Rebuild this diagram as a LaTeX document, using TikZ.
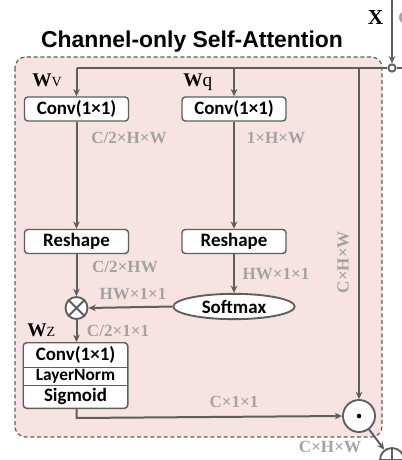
\documentclass[tikz,border=0pt]{standalone}
\usepackage{fontspec}
\setmainfont{Liberation Serif}
\newfontfamily\boxfont{Carlito}
\newfontfamily\titlefont{Liberation Sans}
\usetikzlibrary{arrows.meta,shapes.geometric,fit}
\definecolor{lc}{HTML}{5E5E5E}
\definecolor{lblc}{HTML}{A3A3A3}
\definecolor{pinkbg}{HTML}{F8E3E3}
\begin{document}
\begin{tikzpicture}[x=0.75pt,y=-0.75pt,
  conn/.style={draw=lc,line width=1.5pt},
  arr/.style={conn,-{Stealth[length=5.5pt,width=5pt]}},
  opbox/.style={draw=lc,fill=white,line width=1.1pt,rounded corners=2.5pt,
    minimum width=78pt,minimum height=18pt,inner sep=0pt,
    font=\boxfont\bfseries\fontsize{14.2}{14.2}\selectfont},
  subbox/.style={minimum width=78pt,inner sep=0pt,fill=white,
    font=\boxfont\bfseries\fontsize{14.2}{14.2}\selectfont},
  lbl/.style={text=lblc,font=\bfseries\fontsize{12.8}{12.8}\selectfont,inner sep=0pt},
  opcirc/.style={circle,draw=lc,fill=white,line width=1.4pt,inner sep=0pt},
  wlbl/.style={anchor=base west,inner sep=0pt}]
\useasboundingbox (0,0) rectangle (402,460);

% background dashed box
\draw[draw=lc,dash pattern=on 3pt off 2pt,line width=0.9pt,fill=pinkbg,rounded corners=8pt]
  (15,57) rectangle (382,437);

% title
\node[font=\titlefont\bfseries\fontsize{17.2}{17.2}\selectfont] (title) at (192,42) {Channel-only Self-Attention};

% input
\node[font=\bfseries\fontsize{16}{16}\selectfont,inner sep=0pt] (xlbl) at (375.5,17.5) {X};
\node[lbl,anchor=west] (xdim) at (398,17.5) {C×H×W};
\coordinate (xin) at (392,0);
\node[opcirc,minimum size=5.5pt] (jn) at (392,68) {};
\coordinate (xout) at (402,68);
\draw[arr] (xin) -- (jn);
\draw[conn] (jn) -- (xout);

% boxes
\node[opbox] (cv1) at (76.5,109) {Conv(1×1)};
\node[opbox] (cv2) at (234,109) {Conv(1×1)};
\node[opbox] (rs1) at (76.5,241.5) {Reshape};
\node[opbox] (rs2) at (234,241.5) {Reshape};
\node[opcirc,minimum size=16.5pt] (ot) at (76.5,308) {};
\draw[lc,line width=1.4pt] (ot.north west) -- (ot.south east) (ot.north east) -- (ot.south west);
\node[ellipse,draw=lc,fill=white,line width=1.4pt,minimum width=91pt,minimum height=19pt,inner sep=0pt,
  font=\boxfont\bfseries\fontsize{14.2}{14.2}\selectfont] (sm) at (234,306.5) {Softmax};

% stacked box
\node[subbox,minimum height=18pt] (sc) at (75.5,355) {Conv(1×1)};
\node[subbox,minimum height=13.5pt,font=\boxfont\bfseries\fontsize{13}{13}\selectfont] (sl) at (75.5,376) {LayerNorm};
\node[subbox,minimum height=17.25pt] (ss) at (75.5,396.5) {Sigmoid};
\node[fit=(sc)(sl)(ss),draw=lc,line width=1.1pt,rounded corners=2.5pt,inner sep=0pt] (stack) {};
\draw[lc,line width=1.1pt] (sc.south west) -- (sc.south east);
\draw[lc,line width=1.1pt] (sl.south west) -- (sl.south east);

% dot product
\node[opcirc,minimum size=24pt] (dot) at (359,416) {};
\fill (dot.center) circle (1.7pt);
\node[opcirc,minimum size=18pt] (pl) at (392,460) {};
\draw[lc,line width=1.4pt] (pl.north) -- (pl.south) (pl.west) -- (pl.east);

% W labels
\node[wlbl] (wv) at (32,86.5) {\bfseries\fontsize{14.5}{14.5}\selectfont W\mdseries\fontsize{10.5}{10.5}\selectfont V};
\node[wlbl] (wq) at (183,86.5) {\bfseries\fontsize{14.5}{14.5}\selectfont W\mdseries\fontsize{14.5}{14.5}\selectfont q};
\node[wlbl] (wz) at (27,336) {\bfseries\fontsize{14.5}{14.5}\selectfont W\mdseries\fontsize{10.5}{10.5}\selectfont Z};

% connectors
\coordinate (tl) at (76.5,68);
\draw[conn] (jn) -- (tl);
\draw[arr] (tl) -- (cv1.north);
\draw[arr] (cv2.north |- tl) -- (cv2.north);
\draw[arr] (dot.north |- tl) -- (dot.north);
\draw[arr] (cv1) -- (rs1);
\draw[arr] (cv2) -- (rs2);
\draw[arr] (rs1.south) -- (ot.north);
\draw[arr] (rs2.south) -- (sm.north);
\draw[arr] (sm.west) -- (ot.east);
\draw[arr] (ot.south) -- (stack.north -| ot.south);
\coordinate (bl) at (76.5,418);
\draw[arr] (stack.south -| bl) -- (bl) -- (dot.west);
\draw[arr] (dot) -- (pl);

% dimension labels
\node[lbl] (d1) at (129,138) {C/2×H×W};
\node[lbl] (d2) at (276,138) {1×H×W};
\node[lbl] (d3) at (125,267) {C/2×HW};
\node[lbl] (d4) at (276,274) {HW×1×1};
\node[lbl] (d5) at (133,294) {HW×1×1};
\node[lbl] (d6) at (118,331) {C/2×1×1};
\node[lbl] (d7) at (234,402) {C×1×1};
\node[lbl] (d8) at (330,447) {C×H×W};
\node[lbl,rotate=90] (d9) at (343,262) {C×H×W};
\end{tikzpicture}
\end{document}
